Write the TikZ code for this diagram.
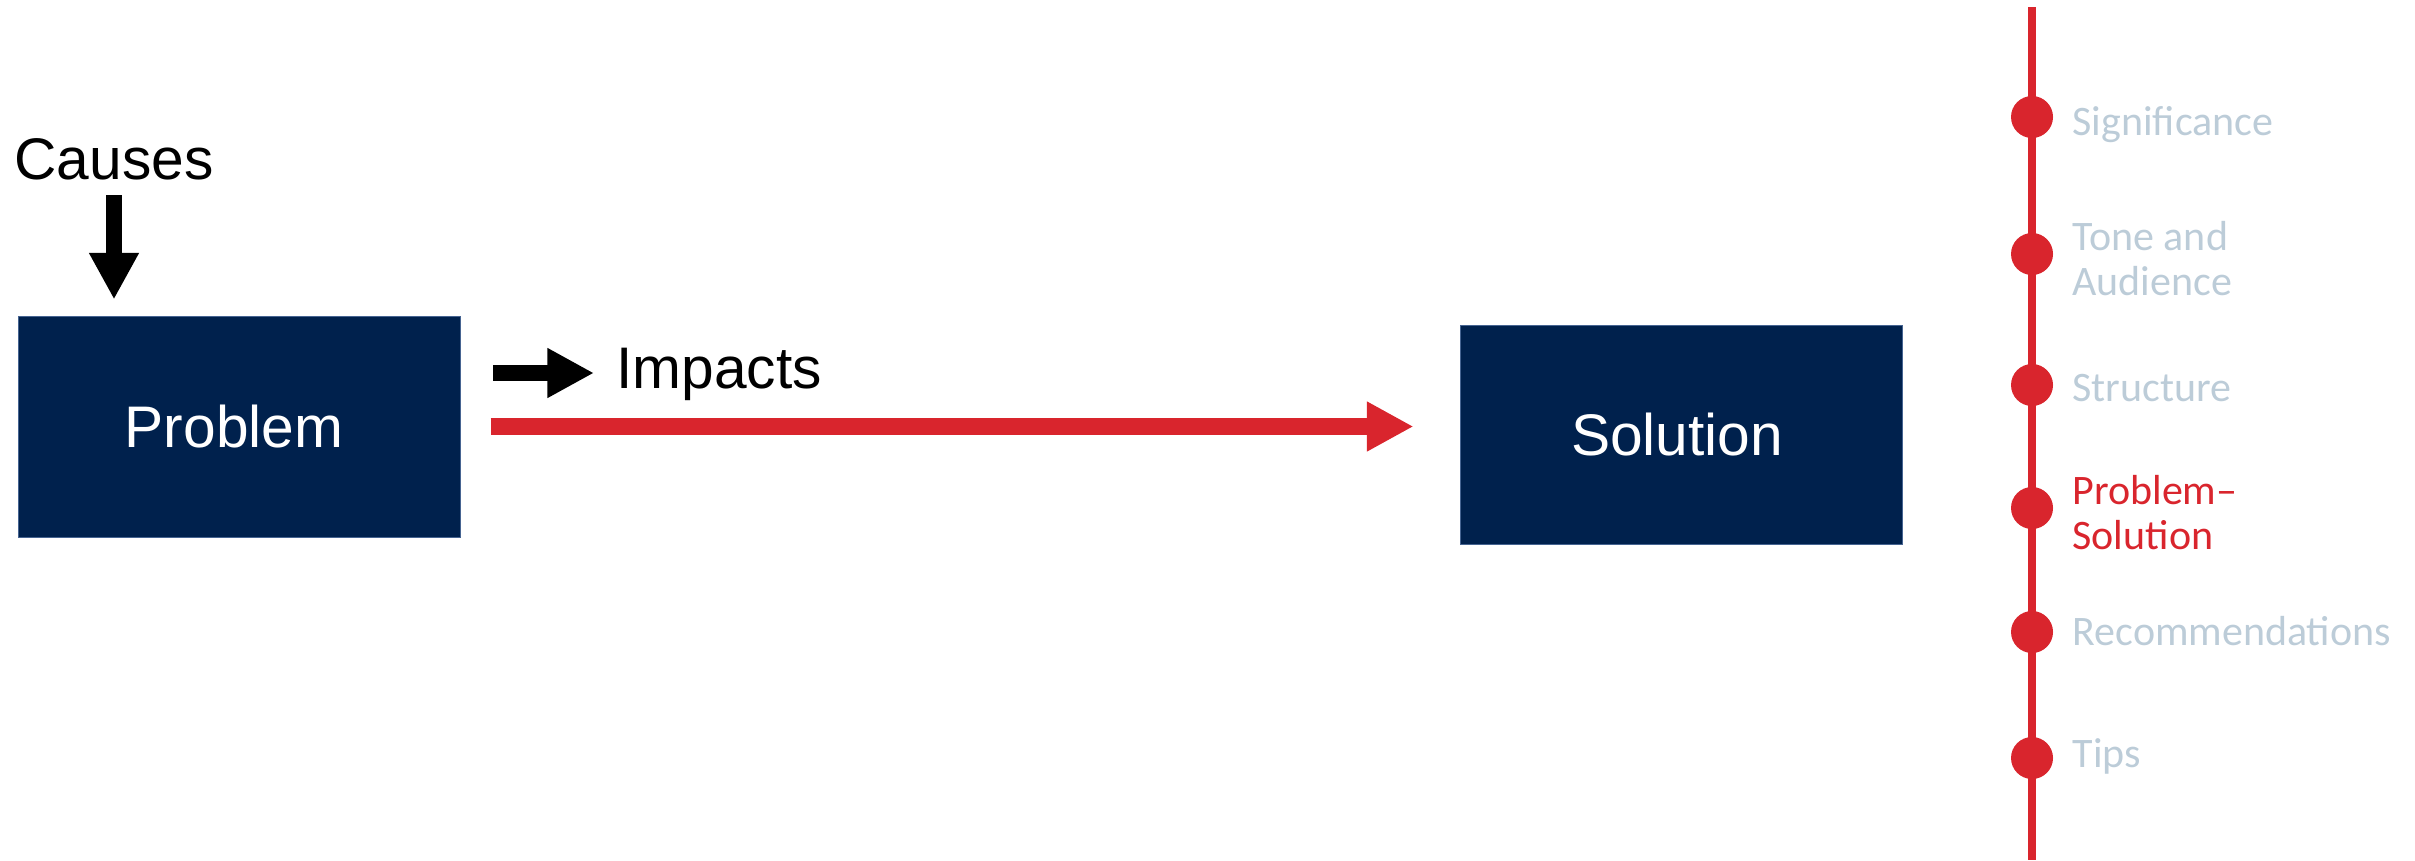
\documentclass[tikz,border=0pt]{standalone}
\usepackage{fontspec}
\setmainfont{Liberation Sans}
\newfontfamily\navfont{Carlito}
\usepackage{xcolor}
\usetikzlibrary{arrows.meta,positioning}

\definecolor{boxnavy}{RGB}{0,33,77}
\definecolor{boxedge}{RGB}{70,100,145}
\definecolor{timered}{RGB}{217,37,45}
\definecolor{mist}{RGB}{188,204,216}

\tikzset{
  bluebox/.style={draw=boxedge, line width=0.75pt, fill=boxnavy, text=white, inner sep=0pt, font=\fontsize{44}{50}\selectfont},
  plainlabel/.style={inner sep=0pt, font=\fontsize{44}{50}\selectfont},
  fatarrow/.style={line width=12.5pt, -{Triangle[length=35pt, width=35pt]}},
  timeline/.style={draw=timered, line width=6pt},
  navdot/.style={circle, fill=timered, inner sep=0pt, minimum size=31.5pt},
  navlabel/.style={inner sep=0pt, align=left, font=\navfont\fontsize{31.5}{33.75}\selectfont}
}

\begin{document}
\begin{tikzpicture}[x=0.75pt,y=0.75pt,yscale=-1,xscale=1]
    \useasboundingbox (0,0) rectangle (2415,860);

    %Shape: Rectangle [problem]
    \node [bluebox, minimum width=331.5pt, minimum height=165.75pt] (problem) at (239,426.5) {Problem\hspace*{7.5pt}};
    %Shape: Rectangle [solution]
    \node [bluebox, minimum width=331.5pt, minimum height=164.25pt] (solution) at (1681,434.5) {Solution\hspace*{6pt}};

    % Text Node
    \node [plainlabel] (causes) at (114,159) {Causes};
    % Text Node
    \node [plainlabel, anchor=base west] (impacts) at (616,388) {Impacts};
    \coordinate (impactsfrom) at (493,373);

    %Shape: Arrows
    \draw [fatarrow, shorten <=11.25pt, shorten >=12pt] (causes.south) -- (causes.south |- problem.north);
    \draw [fatarrow, shorten >=16.5pt] (impactsfrom) -- (impactsfrom -| impacts.west);
    \draw [fatarrow, timered, shorten <=22.5pt, shorten >=34.5pt] (problem.east) -- (problem.east -| solution.west);

    %Shape: Timeline
    \coordinate (ttop) at (2032,7);
    \coordinate (tbot) at (2032,860);
    \draw [timeline] (ttop) -- (tbot);
    % y of dot / label / colour / nudge of label
    \foreach \y/\txt/\col/\dy [count=\i] in {117/Significance/mist/-5.5, 254/{Tone and\\Audience}/mist/-3.5, 385/Structure/mist/-2.25, 508/{Problem–\\Solution}/timered/-3.5, 632/Recommendations/mist/1, 758/Tips/mist/1}
    {
      \node [navdot] (d\i) at (2032,\y) {};
      \node [navlabel, text=\col, right=14.25pt of d\i, yshift=\dy pt] (lab\i) {\txt};
    }

\end{tikzpicture}
\end{document}
